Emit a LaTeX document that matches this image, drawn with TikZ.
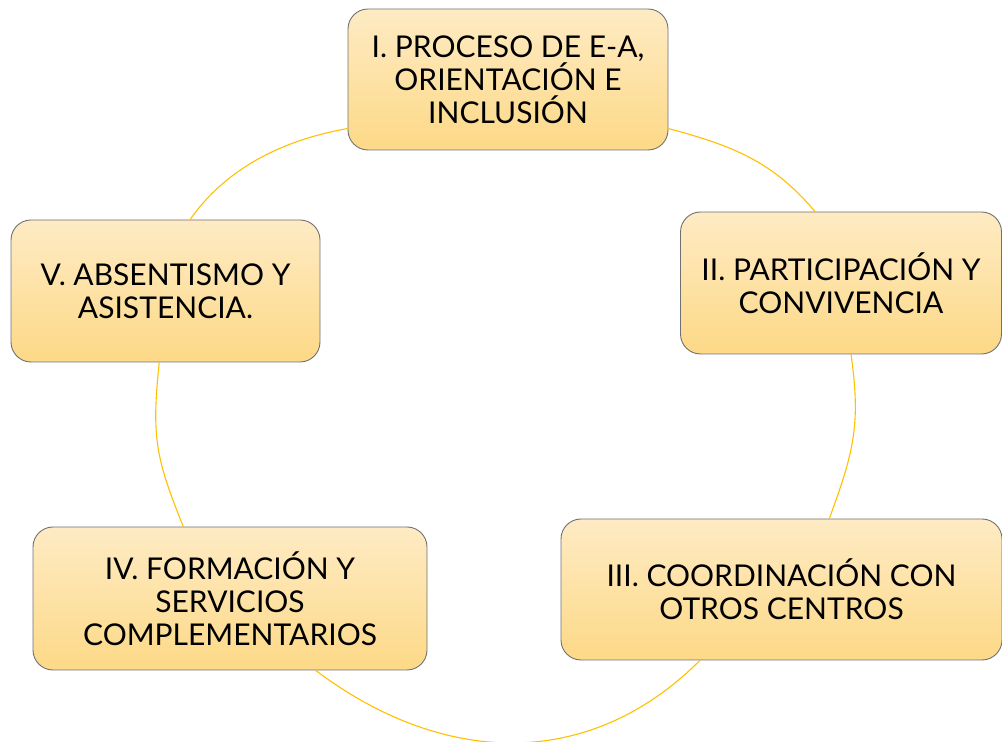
\documentclass[tikz,border=0pt]{standalone}
\usepackage{fontspec}
\setmainfont{Lato}
\definecolor{ringyellow}{HTML}{FFC000}
\definecolor{boxtop}{HTML}{FEEBC4}
\definecolor{boxbottom}{HTML}{FDD987}
\definecolor{boxline}{HTML}{707070}
\tikzset{
    area/.style = {draw = boxline, line width = 0.9pt, rounded corners = 20pt,
        top color = boxtop, bottom color = boxbottom,
        align = center, inner sep = 0pt,
        font = \fontsize{30}{33}\selectfont},
    ring/.style = {ringyellow, line width = 1.1pt},
}
\begin{document}
\begin{tikzpicture}[x = 1pt, y = 1pt]

        \useasboundingbox (0, 0) rectangle (1002, 742);

        % Area I
        \node (a1) [area, minimum width = 320, minimum height = 141] at (508, 662.5)
            {I. PROCESO DE E-A,\\ORIENTACIÓN E\\INCLUSIÓN};

        % Area II
        \node (a2) [area, minimum width = 321, minimum height = 142] at (841, 459)
            {II. PARTICIPACIÓN Y\\CONVIVENCIA};

        % Area III
        \node (a3) [area, minimum width = 441, minimum height = 141] at (781.5, 152.5)
            {III. COORDINACIÓN CON\\OTROS CENTROS};

        % Area IV
        \node (a4) [area, minimum width = 394, minimum height = 143] at (230, 143.5)
            {IV. FORMACIÓN Y\\SERVICIOS\\COMPLEMENTARIOS};

        % Area V
        \node (a5) [area, minimum width = 309, minimum height = 142] at (165.5, 451)
            {V. ABSENTISMO Y\\ASISTENCIA.};

        %% Arcs of the cycle
        \draw [ring] (a5.71) to [out = 55, in = 190, looseness = 0.9] (a1.197.4);
        \draw [ring] (a1.-17.3) to [out = -15, in = 130] (a2.110.6);
        \draw [ring] (a2.-82.8) to [out = -82, in = 70, looseness = 1.1] (a3.56);
        \draw [ring] (a3.221.2) to [out = -135, in = -37, looseness = 1.05] (a4.-40);
        \draw [ring] (a4.123.3) to [out = 112, in = -96, looseness = 1.15] (a5.265.2);

    \end{tikzpicture}
\end{document}
